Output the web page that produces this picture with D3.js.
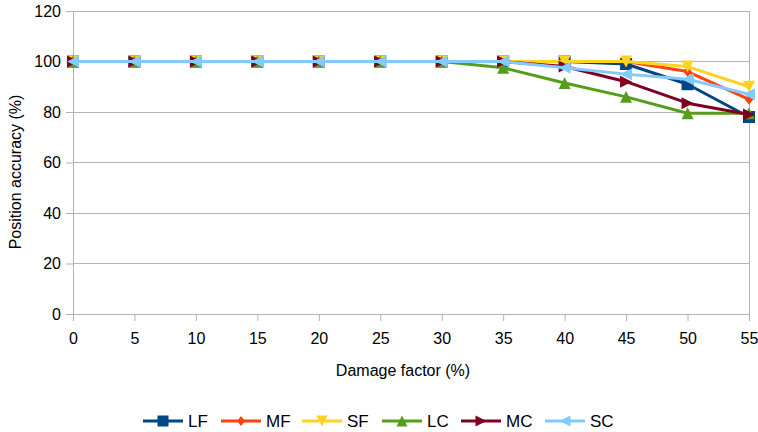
<!DOCTYPE html>
<html><head><meta charset="utf-8">
<script src="https://cdn.jsdelivr.net/npm/d3@7"></script>
<style>body{margin:0;background:#fff}svg{display:block;font-family:"Liberation Sans",Arial,sans-serif}</style>
</head><body><svg id="c" width="758" height="432"></svg>
<script>
const xValues = [0,5,10,15,20,25,30,35,40,45,50,55];
const seriesNames = ["LF","MF","SF","LC","MC","SC"];
const LF = [100,100,100,100,100,100,100,100,100,99,91,78];
const MF = [100,100,100,100,100,100,100,100,100,100,96,85];
const SF = [100,100,100,100,100,100,100,100,100,100,98,90];
const LC = [100,100,100,100,100,100,100,97.5,91.5,86,79.5,79.5];
const MC = [100,100,100,100,100,100,100,100,98,92,83.5,79];
const SC = [100,100,100,100,100,100,100,100,97.5,95,93,87];
const yTicks = [0,20,40,60,80,100,120];
const colors = ["#004586","#ff420e","#ffd320","#579d1c","#7e0021","#83caff"];
const symbols = ["square","diamond","down","up","right","left"];
const allSeries = [LF,MF,SF,LC,MC,SC];

const svg = d3.select("#c");
const L=73, R=749, T=11, B=314;
const x = d3.scaleLinear().domain([0,55]).range([L,R]);
const y = d3.scaleLinear().domain([0,120]).range([B,T]);
const grid="#b3b3b3";

// gridlines
svg.append("g").selectAll("line").data(yTicks).join("line")
  .attr("x1",L).attr("x2",R).attr("y1",d=>y(d)).attr("y2",d=>y(d))
  .attr("stroke",grid).attr("stroke-width",1).attr("shape-rendering","crispEdges");
svg.append("line").attr("x1",R).attr("x2",R).attr("y1",T).attr("y2",B).attr("stroke",grid).attr("shape-rendering","crispEdges");

// axes
const ya = svg.append("g").attr("transform",`translate(${L},0)`)
  .call(d3.axisLeft(y).tickValues(yTicks).tickSize(7).tickPadding(5));
const xa = svg.append("g").attr("transform",`translate(0,${B})`)
  .call(d3.axisBottom(x).tickValues(xValues).tickSize(7).tickPadding(12));
[ya,xa].forEach(a=>{
  a.select(".domain").attr("stroke",grid);
  a.selectAll(".tick line").attr("stroke",grid);
  a.selectAll("text").attr("fill","#000").style("font-size","16px").style("font-family","Liberation Sans, Arial, sans-serif");
});

svg.append("text").attr("x",403).attr("y",376).attr("text-anchor","middle")
  .style("font-size","16px").text("Damage factor (%)");
svg.append("text").attr("transform","translate(21,172) rotate(-90)").attr("text-anchor","middle")
  .style("font-size","16px").text("Position accuracy (%)");

function marker(g, type, cx, cy, color, s){
  let pts;
  if(type==="square"){ g.append("rect").attr("x",cx-s/2).attr("y",cy-s/2).attr("width",s).attr("height",s).attr("fill",color); return; }
  if(type==="diamond") pts=[[cx,cy-s*0.45],[cx+s*0.35,cy],[cx,cy+s*0.45],[cx-s*0.35,cy]];
  if(type==="down") pts=[[cx-s/2,cy-s/2],[cx+s/2,cy-s/2],[cx,cy+s/2]];
  if(type==="up") pts=[[cx-s/2,cy+s/2],[cx+s/2,cy+s/2],[cx,cy-s/2]];
  if(type==="right") pts=[[cx-s/2,cy-s/2],[cx-s/2,cy+s/2],[cx+s/2,cy]];
  if(type==="left") pts=[[cx+s/2,cy-s/2],[cx+s/2,cy+s/2],[cx-s/2,cy]];
  g.append("polygon").attr("points",pts.map(p=>p.join(",")).join(" ")).attr("fill",color);
}

const line = d3.line().x((d,i)=>x(xValues[i])).y(d=>y(d));
allSeries.forEach((vals,si)=>{
  const g = svg.append("g");
  g.append("path").datum(vals).attr("d",line).attr("fill","none")
    .attr("stroke",colors[si]).attr("stroke-width",3).attr("stroke-linejoin","round");
  vals.forEach((v,i)=>marker(g,symbols[si],x(xValues[i]),y(v),colors[si],12));
});

// legend
const legX=[143,221,302,382,461,545];
const lg = svg.append("g");
seriesNames.forEach((n,i)=>{
  const lx=legX[i], ly=421;
  lg.append("line").attr("x1",lx).attr("x2",lx+40).attr("y1",ly).attr("y2",ly)
    .attr("stroke",colors[i]).attr("stroke-width",3);
  marker(lg,symbols[i],lx+20,ly,colors[i],11);
  lg.append("text").attr("x",lx+45).attr("y",ly+6).style("font-size","17px").text(n);
});
</script></body></html>
